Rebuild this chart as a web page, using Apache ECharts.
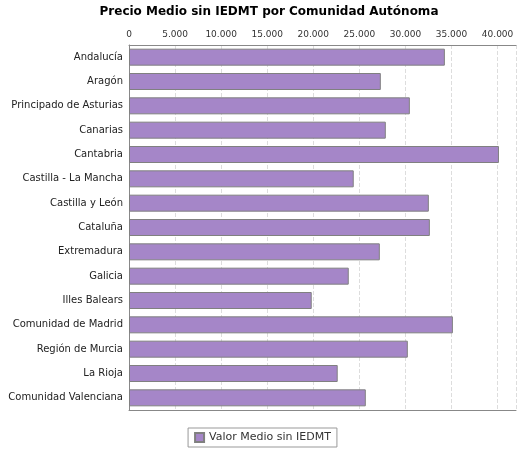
<!DOCTYPE html>
<html><head><meta charset="utf-8">
<script src="https://cdn.jsdelivr.net/npm/echarts@6/dist/echarts.min.js"></script>
<style>html,body{margin:0;padding:0;background:#fff}#c{width:525px;height:450px}</style>
</head><body><div id="c"></div>
<script>
const categories=["Andalucía","Aragón","Principado de Asturias","Canarias","Cantabria","Castilla - La Mancha","Castilla y León","Cataluña","Extremadura","Galicia","Illes Balears","Comunidad de Madrid","Región de Murcia","La Rioja","Comunidad Valenciana"];
const values=[34280,27330,30480,27870,40150,24390,32540,32650,27220,23850,19830,35150,30260,22650,25700];
const seriesName="Valor Medio sin IEDMT";
const chart=echarts.init(document.getElementById('c'));
const fmt=v=>v.toLocaleString('de-DE');
chart.setOption({
 animation:false,
 title:{text:"Precio Medio sin IEDMT por Comunidad Autónoma",left:264,textAlign:'center',top:1,textStyle:{fontFamily:'DejaVu Sans',fontSize:12,fontWeight:'bold',color:'#000'}},
 grid:{left:129,right:9,top:45,bottom:40},
 legend:{bottom:3,left:'center',itemWidth:9,itemHeight:9,borderColor:'#999',borderWidth:1,padding:[4,6],borderRadius:0,icon:'rect',textStyle:{fontFamily:'DejaVu Sans',fontSize:11,color:'#333'}},
 xAxis:[{type:'value',position:'top',min:0,max:42000,interval:5000,
   axisLine:{show:true,lineStyle:{color:'#888'}},axisTick:{show:false},
   axisLabel:{showMaxLabel:false,formatter:fmt,fontFamily:'DejaVu Sans',fontSize:9,color:'#333',margin:6},
   splitLine:{show:true,lineStyle:{type:'dashed',color:'#ddd'}}},
  {type:'value',position:'bottom',min:0,max:42000,interval:5000,
   axisLine:{show:true,lineStyle:{color:'#888'}},axisTick:{show:false},axisLabel:{show:false},splitLine:{show:false}}],
 yAxis:{type:'category',data:categories,inverse:true,
   axisLine:{show:true,lineStyle:{color:'#888'}},axisTick:{show:false},
   axisLabel:{fontFamily:'DejaVu Sans',fontSize:10,color:'#222',margin:6}},
 series:[{name:seriesName,type:'bar',data:values,barWidth:17,
   itemStyle:{color:'#a586c8',borderColor:'#808080',borderWidth:1}}]
});
</script></body></html>
